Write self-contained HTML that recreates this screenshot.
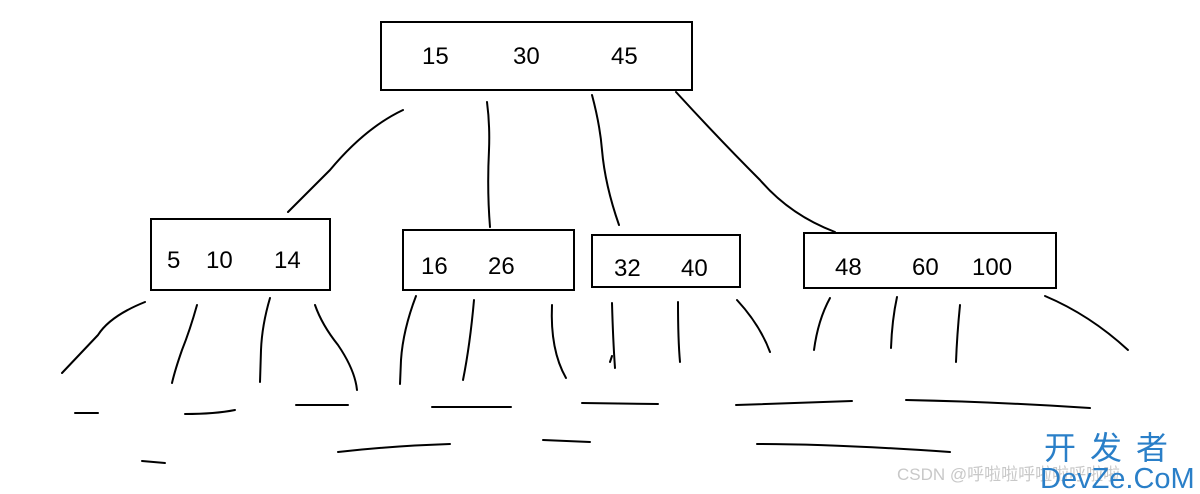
<!DOCTYPE html>
<html><head><meta charset="utf-8"><style>
html,body{margin:0;padding:0;background:#fff;}
svg{display:block}
</style></head><body>
<svg width="1200" height="494" xmlns="http://www.w3.org/2000/svg">
<g fill="none" stroke="#000" stroke-width="2" stroke-linejoin="round" stroke-linecap="round">
<rect x="381" y="22" width="311" height="68" stroke-linecap="butt" stroke-linejoin="miter"/>
<rect x="151" y="219" width="179" height="71" stroke-linecap="butt" stroke-linejoin="miter"/>
<rect x="403" y="230" width="171" height="60" stroke-linecap="butt" stroke-linejoin="miter"/>
<rect x="592" y="235" width="148" height="52" stroke-linecap="butt" stroke-linejoin="miter"/>
<rect x="804" y="233" width="252" height="55" stroke-linecap="butt" stroke-linejoin="miter"/>
<path d="M403,110 Q365,128 330,170 L288,212"/>
<path d="M487,102 Q490,125 489,150 Q487,190 490,227"/>
<path d="M592,95 Q600,125 602,150 Q605,185 619,225"/>
<path d="M676,92 Q720,140 760,180 Q790,215 835,232"/>
<path d="M145,302 Q110,316 98,335 L62,373"/>
<path d="M197,305 Q190,330 182,350 Q175,370 172,383"/>
<path d="M270,298 Q262,325 261,350 L260,382"/>
<path d="M315,305 Q322,325 338,345 Q355,370 357,390"/>
<path d="M75,413 L98,413"/>
<path d="M185,414 Q215,414 235,410"/>
<path d="M296,405 L348,405"/>
<path d="M142,461 L165,463"/>
<path d="M338,452 Q390,446 450,444"/>
<path d="M416,296 Q403,330 401,360 L400,384"/>
<path d="M474,300 Q470,345 463,380"/>
<path d="M552,305 Q550,350 566,378"/>
<path d="M432,407 L511,407"/>
<path d="M543,440 L590,442"/>
<path d="M582,403 L658,404"/>
<path d="M612,303 Q613,340 615,368"/>
<path d="M610,362 L612,356"/>
<path d="M678,302 Q678,340 680,362"/>
<path d="M737,300 Q760,325 770,352"/>
<path d="M830,298 Q818,320 814,350"/>
<path d="M897,297 Q892,320 891,348"/>
<path d="M960,305 Q957,335 956,362"/>
<path d="M1045,296 Q1090,315 1128,350"/>
<path d="M736,405 L852,401"/>
<path d="M906,400 Q1000,402 1090,408"/>
<path d="M757,444 Q835,444 950,452"/>
</g>
<g font-family="Liberation Sans, sans-serif" font-size="24" fill="#000">
<text x="422" y="64">15</text><text x="513" y="64">30</text><text x="611" y="64">45</text>
<text x="167" y="268">5</text><text x="206" y="268">10</text><text x="274" y="268">14</text>
<text x="421" y="274">16</text><text x="488" y="274">26</text>
<text x="614" y="276">32</text><text x="681" y="276">40</text>
<text x="835" y="275">48</text><text x="912" y="275">60</text><text x="972" y="275">100</text>
</g>
<text x="897" y="480" font-family="Liberation Sans, Noto Sans CJK SC, sans-serif" font-size="17" fill="#c8c8c8">CSDN @呼啦啦呼啦啦呼啦啦</text>
<text x="1044" y="459" font-family="Liberation Sans, Noto Sans CJK SC, sans-serif" font-size="32" fill="#2a7fc8" letter-spacing="14">开发者</text>
<text x="1040" y="488" font-family="Liberation Sans, sans-serif" font-size="29" fill="#2a7fc8">DevZe.CoM</text>
</svg>
</body></html>
